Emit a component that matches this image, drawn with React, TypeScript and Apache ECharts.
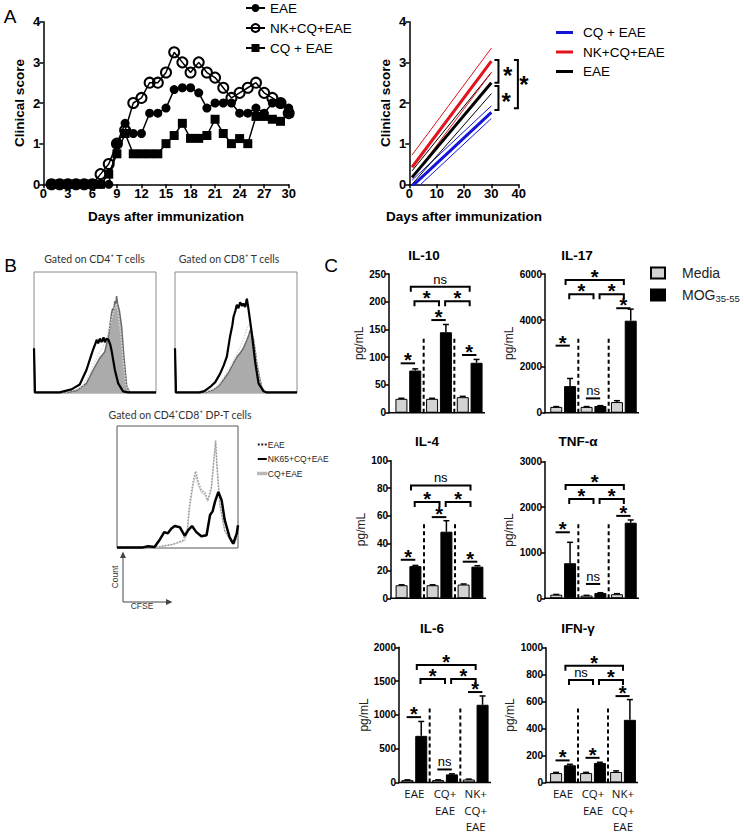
import React, { useEffect, useRef } from 'react';
import * as echarts from 'echarts';

const FONT = "'Liberation Sans', Arial, Helvetica, sans-serif";
const FONT_B = "Lato, 'Open Sans', sans-serif";
const FONT_X = "'Open Sans', 'Liberation Sans', sans-serif";

// ---------- Panel A (left): daily clinical score ----------
const days = [1, 2, 3, 4, 5, 6, 7, 8, 9, 10, 11, 12, 13, 14, 15, 16, 17, 18, 19, 20, 21, 22, 23, 24, 25, 26, 27, 28, 29, 30];
const eaeScore = [0, 0, 0, 0, 0, 0, 0, 0, 1.0, 1.5, 1.25, 1.25, 1.75, 1.75, 1.875, 2.33, 2.375, 2.375, 2.25, 1.875, 2.0, 2.0, 2.0, 1.75, 1.75, 1.875, 1.75, 2.0, 2.0, 1.875];
const nkCqEaeScore = [0, 0, 0, 0, 0, 0, 0.25, 0.5, 1.0, 1.33, 2.0, 2.125, 2.5, 2.5, 2.75, 3.25, 3.0, 2.75, 3.0, 2.75, 2.625, 2.375, 2.125, 2.25, 2.375, 2.5, 2.25, 2.125, 2.0, 1.75];
const cqEaeScore = [0, 0, 0, 0, 0, 0, 0, 0.25, 0.75, 1.25, 0.75, 0.75, 0.75, 0.75, 1.0, 1.2, 1.5, 1.13, 1.13, 1.2, 1.6, 1.25, 1.0, 1.125, 1.0, 1.67, 1.67, 1.6, 1.55, 1.75];

// ---------- Panel A (right): linear regression fits ----------
const fitX = [1, 30];
const cqFit = [-0.05, 1.77];
const cqFitLo = [-0.2, 1.62];
const cqFitHi = [0.1, 1.93];
const nkFit = [0.42, 3.03];
const nkFitLo = [0.15, 2.75];
const nkFitHi = [0.72, 3.35];
const eaeFit = [0.17, 2.5];
const eaeFitLo = [0.0, 2.23];
const eaeFitHi = [0.33, 2.75];
const aBracketX = [32.6, 32.6, 39.7];
const aBracketLow = [2.5, 1.83, 1.87];
const aBracketHigh = [3.06, 2.42, 3.06];
const aStarX = [36.0, 35.4, 41.9];
const aStarY = [2.75, 2.1, 2.54];

// ---------- Panel B: CFSE histograms (x: % of range, y: % of max) ----------
const cd4CqEae = [[0, 37], [0.8, 0.5], [27, 0.5], [35, 2], [43, 8], [48.5, 19], [54, 29], [58, 34], [61, 47], [63.6, 66], [64.5, 70], [65.3, 68], [66.3, 76], [67, 73], [67.7, 80], [68.5, 74], [70, 68], [71.8, 55], [73.7, 30], [76, 5.5], [78.6, 0.5], [100, 0.5]];
const cd4NkCqEae = [[0, 37], [0.8, 0.5], [21, 0.5], [30.7, 3], [37.5, 7], [43, 19], [47, 31.5], [48.5, 36], [50, 40], [51.5, 44], [52.6, 41], [54, 45], [55.3, 42], [57, 46], [58, 42], [59.5, 45], [61, 44], [62.5, 40], [63.6, 35], [66.3, 19], [69, 8], [73, 1.4], [77, 0.5], [100, 0.5]];
const cd4Eae = [[0, 37], [0.8, 0.5], [26, 0.5], [35, 3], [40, 6], [44, 13], [47, 19], [50, 26], [53, 32], [56, 37], [59.5, 44], [62, 55], [64, 63], [66, 70], [67.5, 74], [69, 66], [71, 50], [73, 28], [75.5, 6], [78, 0.5], [100, 0.5]];
const cd8CqEae = [[0, 37], [0.8, 0.5], [25, 0.5], [31.5, 2.7], [36, 6], [39.7, 11], [44, 17], [48, 25], [51, 30], [53.4, 33], [56, 37], [59, 44], [60.5, 48], [61.6, 52], [62.5, 50], [63.5, 47], [64.4, 44], [66, 33], [67, 25], [69, 14], [71, 5.5], [73, 1.5], [75, 0.5], [100, 0.5]];
const cd8NkCqEae = [[0, 37], [0.8, 0.5], [20, 0.5], [24, 1.5], [28.8, 5], [33, 9], [37, 16], [40, 23], [42.5, 30], [45, 46], [47, 56], [48, 63], [49.5, 68], [50.7, 73], [52, 70], [53.4, 75], [55, 72], [56, 74], [57.5, 71], [58.9, 78], [60, 71], [61.5, 60], [63, 49], [65.8, 25], [68.5, 8], [72.6, 1.4], [75, 0.5], [100, 0.5]];
const cd8Eae = [[0, 37], [0.8, 0.5], [24, 0.5], [31, 3], [36, 7], [40, 13], [45, 21], [49, 29], [53, 37], [56, 44], [58, 50], [60, 56], [61.5, 57], [62.5, 52], [64, 46], [66, 33], [68, 18], [70.5, 6], [74, 0.5], [100, 0.5]];
const dpEae = [[0, 0.5], [35, 1], [46, 3], [54.5, 6.3], [58, 14.5], [60, 36], [63, 55], [65, 63], [67, 55], [69.7, 47], [72.5, 46], [75, 39], [78, 50], [80, 72], [81.5, 88], [82.6, 69], [85, 36], [89, 14.5], [94.5, 5], [97, 3.5], [100, 12]];
const dpNkCqEae = [[0, 0.5], [21.5, 0.5], [25.6, 1.4], [31, 0.8], [35, 6.3], [39, 13], [42, 12], [45, 16], [47.7, 18], [52, 17], [56, 10], [58.7, 14.5], [62, 18], [65.6, 13], [69.7, 9.6], [74, 10.4], [76.9, 27], [79, 30], [81, 38], [83.8, 46], [86.5, 39], [89, 23], [93, 9], [96, 3.5], [99, 12], [100, 18.6]];
const dpCqEae = [[0, 0.5], [33, 0.5], [40, 2], [46, 3], [52, 4.5], [56, 6], [58, 12], [60, 32], [63, 52], [65, 60], [67, 52], [70, 45], [72.5, 44], [75, 38], [78, 48], [80, 70], [81.5, 86], [82.6, 66], [85, 34], [89, 14], [94.5, 4.8], [97, 3.2], [100, 11]];

// ---------- Panel C: cytokines (pg/mL) ----------
const groupLabels = ['EAE', 'CQ+\nEAE', 'NK+\nCQ+\nEAE'];
const cytokineNames = ['IL-10', 'IL-17', 'IL-4', 'TNF-α', 'IL-6', 'IFN-γ'];
const axisMax = [250, 6000, 100, 3000, 2000, 1000];
const axisStep = [50, 2000, 20, 1000, 500, 200];

const il10Media = [25, 25, 28];
const il10MediaErr = [1, 1, 1.5];
const il10Mog = [76, 145, 90];
const il10MogErr = [3, 14, 6];
const il10Sig = [89, 167, 104];
const il10SigLab = ['*', '*', '*'];
const il10Bracket = [201, '*', '*'];
const il10Top = [227, 'ns'];
const il10Divider = 138;

const il17Media = [250, 250, 460];
const il17MediaErr = [15, 15, 60];
const il17Mog = [1150, 290, 3980];
const il17MogErr = [330, 15, 500];
const il17Sig = [2900, 620, 4520];
const il17SigLab = ['*', 'ns', '*'];
const il17Bracket = [5120, '*', '*'];
const il17Top = [5740, '*'];
const il17Divider = 3320;

const il4Media = [9.5, 9.5, 10];
const il4MediaErr = [0.3, 0.3, 0.4];
const il4Mog = [23.4, 48.4, 23];
const il4MogErr = [0.5, 8, 0.7];
const il4Sig = [28, 59, 26.6];
const il4SigLab = ['*', '*', '*'];
const il4Bracket = [70, '*', '*'];
const il4Top = [82, 'ns'];
const il4Divider = 55;

const tnfMedia = [80, 60, 90];
const tnfMediaErr = [5, 5, 12];
const tnfMog = [770, 115, 1660];
const tnfMogErr = [460, 8, 60];
const tnfSig = [1450, 315, 1810];
const tnfSigLab = ['*', 'ns', '*'];
const tnfBracket = [2180, '*', '*'];
const tnfTop = [2490, '*'];
const tnfDivider = 1670;

const il6Media = [35, 35, 45];
const il6MediaErr = [4, 4, 5];
const il6Mog = [690, 120, 1150];
const il6MogErr = [213, 8, 130];
const il6Sig = [967, 193, 1338];
const il6SigLab = ['*', 'ns', '*'];
const il6Bracket = [1532, '*', '*'];
const il6Top = [1739, '*'];
const il6Divider = 1130;

const ifnMedia = [70, 70, 78];
const ifnMediaErr = [5, 5, 8];
const ifnMog = [128, 145, 465];
const ifnMogErr = [7, 5, 150];
const ifnSig = [164, 183, 641];
const ifnSigLab = ['*', '*', '*'];
const ifnBracket = [761, 'ns', '*'];
const ifnTop = [867, '*'];
const ifnDivider = 560;

const cPanels = [
  { media: il10Media, mediaErr: il10MediaErr, mog: il10Mog, mogErr: il10MogErr, sig: il10Sig, sigLab: il10SigLab, bracket: il10Bracket, top: il10Top, divider: il10Divider },
  { media: il17Media, mediaErr: il17MediaErr, mog: il17Mog, mogErr: il17MogErr, sig: il17Sig, sigLab: il17SigLab, bracket: il17Bracket, top: il17Top, divider: il17Divider },
  { media: il4Media, mediaErr: il4MediaErr, mog: il4Mog, mogErr: il4MogErr, sig: il4Sig, sigLab: il4SigLab, bracket: il4Bracket, top: il4Top, divider: il4Divider },
  { media: tnfMedia, mediaErr: tnfMediaErr, mog: tnfMog, mogErr: tnfMogErr, sig: tnfSig, sigLab: tnfSigLab, bracket: tnfBracket, top: tnfTop, divider: tnfDivider },
  { media: il6Media, mediaErr: il6MediaErr, mog: il6Mog, mogErr: il6MogErr, sig: il6Sig, sigLab: il6SigLab, bracket: il6Bracket, top: il6Top, divider: il6Divider },
  { media: ifnMedia, mediaErr: ifnMediaErr, mog: ifnMog, mogErr: ifnMogErr, sig: ifnSig, sigLab: ifnSigLab, bracket: ifnBracket, top: ifnTop, divider: ifnDivider },
];

// layout (pixels)
const cLayout = [
  { left: 393, axisX: 389, right: 485, top: 274, bottom: 412.7, titleX: 424, titleY: 255 },
  { left: 548, axisX: 545, right: 639, top: 274, bottom: 412.7, titleX: 577, titleY: 255 },
  { left: 393, axisX: 391, right: 486, top: 460.7, bottom: 598.3, titleX: 427, titleY: 441 },
  { left: 548, axisX: 545, right: 639, top: 461.7, bottom: 598.3, titleX: 578, titleY: 441 },
  { left: 399, axisX: 399, right: 491, top: 647.3, bottom: 785, titleX: 432, titleY: 628 },
  { left: 548, axisX: 546, right: 638, top: 647.7, bottom: 786, titleX: 578, titleY: 628 },
];

const BAR_W = 12;
const BAR_GAP = 0.15;
const HALF = (BAR_W * (1 + BAR_GAP)) / 2;

const axisLine = { show: true, onZero: false, lineStyle: { color: '#000', width: 1.5 } };
const axisTick = { show: true, length: 4, lineStyle: { color: '#000', width: 1.5 } };
const plain = (v: number) => String(v);

function sigLabel(t: string, x: number, y: number, big = 20) {
  if (t === '*') {
    return { type: 'text', x, y: y - 3, style: { text: '*', fontSize: big, fontWeight: 'bold', fontFamily: FONT, fill: '#000', align: 'center', verticalAlign: 'middle' } };
  }
  return { type: 'text', x, y: y - 1, style: { text: t, fontSize: 13, fontFamily: FONT, fill: '#000', align: 'center', verticalAlign: 'bottom' } };
}

function cRender(idx: number) {
  return (_params: any, api: any) => {
    const d: any = cPanels[idx];
    const L = cLayout[idx];
    const c0 = api.coord([0, 0]);
    const bw = api.size([1, 0])[0];
    const y0 = c0[1];
    const gx = (u: number) => c0[0] + u * bw;
    const py = (v: number) => api.coord([0, v])[1];
    const ch: any[] = [];
    const stroke = '#000';
    ch.push({ type: 'line', shape: { x1: gx(-0.5) - (L.left - L.axisX) - 0.75, y1: y0, x2: gx(2.5), y2: y0 }, style: { stroke, lineWidth: 1.5 } });
    [0.5, 1.5].forEach((u) => {
      ch.push({ type: 'line', shape: { x1: gx(u), y1: y0, x2: gx(u), y2: py(d.divider) }, style: { stroke, lineWidth: 2, lineDash: [4, 3] } });
    });
    const sets: any[] = [[d.media, d.mediaErr, -1], [d.mog, d.mogErr, 1]];
    sets.forEach(([vals, errs, sgn]) => {
      vals.forEach((v: number, g: number) => {
        const x = gx(g) + sgn * HALF;
        const yt = py(v + errs[g]);
        ch.push({ type: 'line', shape: { x1: x, y1: py(v), x2: x, y2: yt }, style: { stroke, lineWidth: 1.5 } });
        ch.push({ type: 'line', shape: { x1: x - 3, y1: yt, x2: x + 3, y2: yt }, style: { stroke, lineWidth: 1.5 } });
      });
    });
    d.sig.forEach((v: number, g: number) => {
      const x1 = gx(g - 0.25);
      const x2 = gx(g + 0.22);
      const y = py(v);
      ch.push({ type: 'line', shape: { x1, y1: y, x2, y2: y }, style: { stroke, lineWidth: 2 } });
      ch.push(sigLabel(d.sigLab[g], (x1 + x2) / 2, y));
    });
    const br = (a: number, b: number, v: number, lab: string) => {
      const y = py(v);
      const xa = gx(a);
      const xb = gx(b);
      ch.push({ type: 'polyline', shape: { points: [[xa, y + 5], [xa, y], [xb, y], [xb, y + 5]] }, style: { stroke, lineWidth: 2, fill: null } });
      ch.push(sigLabel(lab, (xa + xb) / 2, y));
    };
    br(0.2, 1.0, d.bracket[0], d.bracket[1]);
    br(1.2, 2.0, d.bracket[0], d.bracket[2]);
    br(0.08, 2.0, d.top[0], d.top[1]);
    return { type: 'group', children: ch };
  };
}

function aRightRender(_params: any, api: any) {
  const ch: any[] = [];
  aBracketX.forEach((bx, i) => {
    const top = api.coord([bx, aBracketHigh[i]]);
    const bot = api.coord([bx, aBracketLow[i]]);
    ch.push({ type: 'polyline', shape: { points: [[top[0] - 4, top[1]], [top[0], top[1]], [bot[0], bot[1]], [bot[0] - 4, bot[1]]] }, style: { stroke: '#000', lineWidth: 2, fill: null } });
    const s = api.coord([aStarX[i], aStarY[i]]);
    ch.push({ type: 'text', x: s[0], y: s[1] + 3, style: { text: '*', fontSize: 24, fontWeight: 'bold', fontFamily: FONT, fill: '#000', align: 'center', verticalAlign: 'middle' } });
  });
  return { type: 'group', children: ch };
}

function txt(text: string, x: number, y: number, o: any = {}) {
  return {
    type: 'text', x, y, rotation: o.rotation || 0, silent: true,
    style: {
      text, fontSize: o.size || 13, fontWeight: o.weight || 'normal', fontFamily: o.family || FONT, fill: o.color || '#000',
      align: o.align || 'center', verticalAlign: 'middle', textAlign: o.align || 'center', textVerticalAlign: 'middle',
    },
  };
}

const legendNames: Record<string, string> = {
  aEAE: 'EAE', aNK: 'NK+CQ+EAE', aCQ: 'CQ + EAE',
  rCQ: 'CQ + EAE', rNK: 'NK+CQ+EAE', rEAE: 'EAE',
  b3Eae: 'EAE', b3Nk: 'NK65+CQ+EAE', b3Cq: 'CQ+EAE',
  cMedia0: 'Media', cMog0: '{a|MOG}{b|35-55}',
};

function buildOption() {
  const grid: any[] = [
    { left: 43.3, top: 21.7, width: 245.4, height: 162.6 },
    { left: 409.3, top: 21.7, width: 109.4, height: 162.6 },
    { left: 34, top: 272, width: 122, height: 121, show: true, borderColor: '#8a8a8a', borderWidth: 1 },
    { left: 175, top: 272, width: 122, height: 121, show: true, borderColor: '#8a8a8a', borderWidth: 1 },
    { left: 117, top: 426, width: 121, height: 122, show: true, borderColor: '#555', borderWidth: 1 },
  ];
  cLayout.forEach((L) => grid.push({ left: L.left, top: L.top, width: L.right - L.left, height: L.bottom - L.top }));

  const labelStyle = { fontFamily: FONT, fontWeight: 'bold', fontSize: 13, color: '#000' };
  const nameStyle = { fontFamily: FONT, fontWeight: 'bold', fontSize: 13.5, color: '#000' };

  const xAxis: any[] = [
    { gridIndex: 0, type: 'value', min: 0, max: 30, interval: 3, axisLine, axisTick, splitLine: { show: false }, axisLabel: { ...labelStyle, margin: 3 }, name: 'Days after immunization', nameLocation: 'middle', nameGap: 25, nameTextStyle: nameStyle },
    { gridIndex: 1, type: 'value', min: 0, max: 40, interval: 10, axisLine, axisTick, splitLine: { show: false }, axisLabel: { ...labelStyle, margin: 3 }, name: 'Days after immunization', nameLocation: 'middle', nameGap: 25, nameTextStyle: nameStyle },
    { gridIndex: 2, type: 'value', min: 0, max: 100, show: false },
    { gridIndex: 3, type: 'value', min: 0, max: 100, show: false },
    { gridIndex: 4, type: 'value', min: 0, max: 100, show: false },
  ];
  const yAxis: any[] = [
    { gridIndex: 0, type: 'value', min: 0, max: 4, interval: 1, axisLine, axisTick, splitLine: { show: false }, axisLabel: { ...labelStyle, margin: 3 }, name: 'Clinical score', nameLocation: 'middle', nameRotate: 90, nameGap: 17, nameTextStyle: nameStyle },
    { gridIndex: 1, type: 'value', min: 0, max: 4, interval: 1, axisLine, axisTick, splitLine: { show: false }, axisLabel: { ...labelStyle, margin: 3 }, name: 'Clinical score', nameLocation: 'middle', nameRotate: 90, nameGap: 17, nameTextStyle: nameStyle },
    { gridIndex: 2, type: 'value', min: 0, max: 100, show: false },
    { gridIndex: 3, type: 'value', min: 0, max: 100, show: false },
    { gridIndex: 4, type: 'value', min: 0, max: 100, show: false },
  ];
  cLayout.forEach((L, i) => {
    xAxis.push({
      gridIndex: 5 + i, type: 'category', data: groupLabels, axisLine: { show: false }, axisTick: { show: false },
      axisLabel: { show: i >= 4, fontFamily: FONT_X, fontSize: 11.5, lineHeight: 16.5, color: '#111', margin: 3 },
    });
    yAxis.push({
      gridIndex: 5 + i, type: 'value', min: 0, max: axisMax[i], interval: axisStep[i], offset: L.left - L.axisX,
      axisLine: { show: true, lineStyle: { color: '#000', width: 1.5 } }, axisTick, splitLine: { show: false },
      axisLabel: { fontFamily: FONT, fontWeight: 'bold', fontSize: 10, color: '#000', margin: 3, formatter: plain },
      name: 'pg/mL', nameLocation: 'middle', nameRotate: 90, nameGap: i % 2 === 0 ? 24 : 30,
      nameTextStyle: { fontFamily: FONT, fontSize: 12, color: '#222' },
    });
  });

  const pair = (xs: number[], ys: number[]) => xs.map((x, i) => [x, ys[i]]);
  const series: any[] = [
    { name: 'aEAE', type: 'line', xAxisIndex: 0, yAxisIndex: 0, data: pair(days, eaeScore), symbol: 'circle', symbolSize: 9, itemStyle: { color: '#000' }, lineStyle: { color: '#000', width: 1.5 }, z: 3 },
    { name: 'aNK', type: 'line', xAxisIndex: 0, yAxisIndex: 0, data: pair(days, nkCqEaeScore), symbol: 'circle', symbolSize: 10, itemStyle: { color: 'rgba(255,255,255,0)', borderColor: '#000', borderWidth: 2 }, lineStyle: { color: '#000', width: 1.5 }, z: 4 },
    { name: 'aCQ', type: 'line', xAxisIndex: 0, yAxisIndex: 0, data: pair(days, cqEaeScore), symbol: 'rect', symbolSize: 9, itemStyle: { color: '#000' }, lineStyle: { color: '#000', width: 1.5 }, z: 2 },
  ];
  const fitLine = (name: string, ys: number[], color: string, width: number) => ({
    name, type: 'line', xAxisIndex: 1, yAxisIndex: 1, data: pair(fitX, ys), symbol: 'none', itemStyle: { color }, lineStyle: { color, width }, clip: true,
  });
  const BLUE = '#1414d8';
  const RED = '#e3121b';
  series.push(
    fitLine('rCQlo', cqFitLo, BLUE, 1), fitLine('rCQhi', cqFitHi, BLUE, 1),
    fitLine('rEAElo', eaeFitLo, '#000', 1), fitLine('rEAEhi', eaeFitHi, '#000', 1),
    fitLine('rNKlo', nkFitLo, RED, 1), fitLine('rNKhi', nkFitHi, RED, 1),
    fitLine('rCQ', cqFit, BLUE, 3), fitLine('rNK', nkFit, RED, 3), fitLine('rEAE', eaeFit, '#000', 3),
    { name: 'rBr', type: 'custom', xAxisIndex: 1, yAxisIndex: 1, data: [[0, 0]], renderItem: aRightRender, clip: false, silent: true, z: 5 },
  );

  const hist = (name: string, g: number, data: number[][], kind: string) => {
    const base: any = { name, type: 'line', xAxisIndex: g, yAxisIndex: g, data, symbol: 'none', silent: true };
    if (kind === 'gray') return { ...base, itemStyle: { color: '#6a6a6a' }, lineStyle: { color: '#6a6a6a', width: 1.5 }, areaStyle: { color: '#ababab', opacity: 1 }, z: 1 };
    if (kind === 'dot') return { ...base, itemStyle: { color: '#d8d8d8' }, lineStyle: { color: '#d8d8d8', width: 1.5, type: 'dotted' }, z: 2 };
    return { ...base, itemStyle: { color: '#000' }, lineStyle: { color: '#000', width: 2.2 }, z: 3 };
  };
  series.push(
    hist('b1Cq', 2, cd4CqEae, 'gray'), hist('b1Eae', 2, cd4Eae, 'dot'), hist('b1Nk', 2, cd4NkCqEae, 'black'),
    hist('b2Cq', 3, cd8CqEae, 'gray'), hist('b2Eae', 3, cd8Eae, 'dot'), hist('b2Nk', 3, cd8NkCqEae, 'black'),
    { name: 'b3Cq', type: 'line', xAxisIndex: 4, yAxisIndex: 4, data: dpCqEae, symbol: 'none', itemStyle: { color: '#b5b5b5' }, lineStyle: { color: '#d2d2d2', width: 1.2 }, z: 1 },
    { name: 'b3Eae', type: 'line', xAxisIndex: 4, yAxisIndex: 4, data: dpEae, symbol: 'none', itemStyle: { color: '#222' }, lineStyle: { color: '#9a9a9a', width: 1.5, type: 'dotted' }, z: 2 },
    { name: 'b3Nk', type: 'line', xAxisIndex: 4, yAxisIndex: 4, data: dpNkCqEae, symbol: 'none', itemStyle: { color: '#000' }, lineStyle: { color: '#000', width: 2.5 }, z: 3 },
  );

  cPanels.forEach((d, i) => {
    series.push(
      { name: 'cMedia' + i, type: 'bar', xAxisIndex: 5 + i, yAxisIndex: 5 + i, data: d.media, barWidth: BAR_W, barGap: BAR_GAP * 100 + '%', itemStyle: { color: '#d3d3d3', borderColor: '#000', borderWidth: 1 }, silent: true },
      { name: 'cMog' + i, type: 'bar', xAxisIndex: 5 + i, yAxisIndex: 5 + i, data: d.mog, barWidth: BAR_W, barGap: BAR_GAP * 100 + '%', itemStyle: { color: '#000', borderColor: '#000', borderWidth: 1 }, silent: true },
      { name: 'cAnn' + i, type: 'custom', xAxisIndex: 5 + i, yAxisIndex: 5 + i, data: [[0, 0]], renderItem: cRender(i), clip: false, silent: true, z: 5 },
    );
  });

  const fmt = (n: string) => legendNames[n] || n;
  const DOTS = 'path://M0,0h2v2h-2zM3.5,0h2v2h-2zM7,0h2v2h-2z';
  const legend: any[] = [
    { left: 245, top: 1, orient: 'vertical', itemWidth: 19, itemHeight: 10, itemGap: 6, selectedMode: false, padding: 0, data: ['aEAE', 'aNK', 'aCQ'], formatter: fmt, textStyle: { fontFamily: FONT, fontSize: 13.5, color: '#000' } },
    {
      left: 556, top: 25.5, orient: 'vertical', itemWidth: 17, itemHeight: 3, itemGap: 5.5, selectedMode: false, padding: 0, formatter: fmt, icon: 'rect',
      data: [
        { name: 'rCQ', itemStyle: { color: BLUE } },
        { name: 'rNK', itemStyle: { color: RED } },
        { name: 'rEAE', itemStyle: { color: '#000' } },
      ],
      textStyle: { fontFamily: FONT, fontSize: 13.5, color: '#000', padding: [0, 0, 0, 5] },
    },
    {
      left: 257, top: 440, orient: 'vertical', itemWidth: 9, itemHeight: 2, itemGap: 5.5, selectedMode: false, padding: 0, formatter: fmt,
      data: [
        { name: 'b3Eae', icon: DOTS, itemStyle: { color: '#222' } },
        { name: 'b3Nk', icon: 'rect', itemStyle: { color: '#000' } },
        { name: 'b3Cq', icon: 'rect', itemStyle: { color: '#aaaaaa', borderColor: '#bbbbbb', borderWidth: 1.5 } },
      ],
      textStyle: { fontFamily: FONT, fontSize: 8.5, color: '#222', padding: [0, 0, 0, -4] },
    },
    {
      left: 650, top: 266, orient: 'vertical', itemWidth: 14, itemHeight: 11, itemGap: 8, selectedMode: false, padding: 0, icon: 'rect', formatter: fmt,
      data: ['cMedia0', 'cMog0'],
      textStyle: { fontFamily: FONT, fontSize: 14, color: '#222', padding: [0, 0, 0, 12], rich: { a: { fontFamily: FONT, fontSize: 14, color: '#222', lineHeight: 16 }, b: { fontFamily: FONT, fontSize: 9.5, color: '#222', verticalAlign: 'bottom', lineHeight: 6 } } },
    },
  ];

  const elements: any[] = [
    txt('A', 10, 16.5, { size: 19 }),
    txt('B', 10.5, 265, { size: 19 }),
    txt('C', 331, 265, { size: 19 }),
    txt('Gated on CD4⁺ T cells', 94.5, 259, { size: 10.5, family: FONT_B, color: '#333' }),
    txt('Gated on CD8⁺ T cells', 229, 259, { size: 10.5, family: FONT_B, color: '#333' }),
    txt('Gated on CD4⁺CD8⁺ DP-T cells', 180, 415, { size: 10.5, family: FONT_B, color: '#333' }),
    { type: 'line', shape: { x1: 123, y1: 602, x2: 123, y2: 555 }, style: { stroke: '#444', lineWidth: 1 } },
    { type: 'polygon', shape: { points: [[120, 558], [123, 551.5], [126, 558]] }, style: { fill: '#444' } },
    { type: 'line', shape: { x1: 123, y1: 602, x2: 169, y2: 602 }, style: { stroke: '#444', lineWidth: 1 } },
    { type: 'polygon', shape: { points: [[166, 599], [172.5, 602], [166, 605]] }, style: { fill: '#444' } },
    txt('Count', 114.5, 577, { size: 8.5, color: '#333', rotation: Math.PI / 2 }),
    txt('CFSE', 142, 606, { size: 8.5, color: '#333' }),
  ];
  cLayout.forEach((L, i) => elements.push(txt(cytokineNames[i], L.titleX, L.titleY, { size: 13.5, weight: 'bold' })));

  return { animation: false, backgroundColor: '#fff', grid, xAxis, yAxis, series, legend, graphic: { elements } };
}

export default function App() {
  const ref = useRef<HTMLDivElement>(null);
  useEffect(() => {
    const chart = echarts.init(ref.current as HTMLDivElement, null, { renderer: 'svg' });
    chart.setOption(buildOption() as any);
    return () => chart.dispose();
  }, []);
  return <div ref={ref} style={{ position: 'absolute', left: 0, top: 0, width: 744, height: 835, background: '#fff' }} />;
}
